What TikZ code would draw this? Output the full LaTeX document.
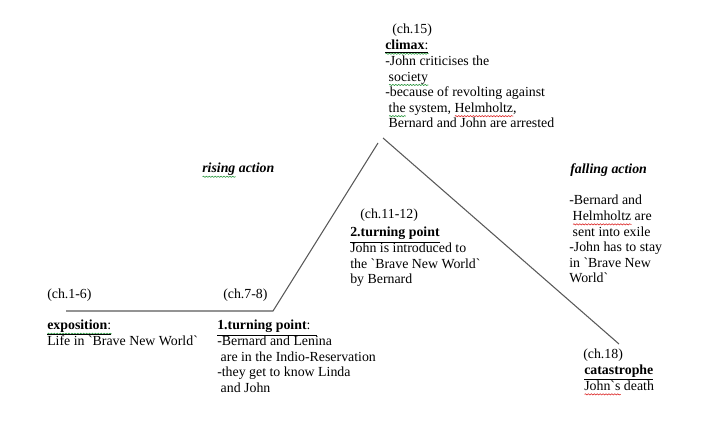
\documentclass[tikz,border=0pt]{standalone}
\usepackage{fontspec}
\setmainfont{Liberation Serif}
\usetikzlibrary{decorations.pathmorphing}
\definecolor{spellg}{RGB}{40,150,60}
\definecolor{spellr}{RGB}{220,40,40}
\newsavebox{\wordbox}
\newlength{\wordlen}
\newcommand{\spell}[2]{\sbox{\wordbox}{#2}\setlength{\wordlen}{\wd\wordbox}\rlap{\tikz[baseline=0pt]\draw[#1,line width=0.45pt,decorate,decoration={snake,amplitude=0.45pt,segment length=2.2pt}] (0pt,-2.9pt) -- (\wordlen,-2.9pt);}\usebox{\wordbox}}
\newcommand{\gr}{\textasciigrave}

\begin{document}
\begin{tikzpicture}[x=0.75pt,y=-0.75pt,
	txt/.style={anchor=north west, inner sep=0pt, align=left, font=\fontsize{10.4}{11.7}\selectfont},
	plotline/.style={draw=black!65, line width=0.8pt}]
	\useasboundingbox (0,0) rectangle (713,428);

	% kurve
	\coordinate (start) at (66,311);
	\coordinate (tp1) at (273,311);
	\coordinate (rise) at (378,143);
	\coordinate (peak) at (383,138);
	\coordinate (end) at (619,344);
	\draw[plotline] (start) -- (tp1) -- (rise);
	\draw[plotline] (peak) -- (end);

	% exposition
	\node[txt] (ch16) at (47,289) {(ch.1-6)};
	\node[txt] (expo) at (47,320) {\spell{spellg}{\underline{\textbf{exposition}:}}\\Life in \gr Brave New World\gr};

	% 1. wendepunkt
	\node[txt] (ch78) at (223,289) {(ch.7-8)};
	\node[txt] (tpone) at (217,320) {\underline{\textbf{1.turning point}:~~}\\-Bernard and Lenina\\\ are in the Indio-Reservation\\-they get to know Linda\\\ and John};

	% steigende handlung
	\node[txt] (rising) at (202,163) {\textbf{\textit{\spell{spellg}{rising} action}}};

	% 2. wendepunkt
	\node[txt] (ch1112) at (360,209) {(ch.11-12)};
	\node[txt] (tptwo) at (350,227) {\underline{\textbf{2.turning point}}\\John is introduced to\\the \gr Brave New World\gr\\by Bernard};

	% hoehepunkt
	\node[txt] (ch15) at (392,24) {(ch.15)};
	\node[txt] (climax) at (385,40) {\spell{spellg}{\underline{\textbf{climax}:}}\\-John criticises the\\\ \spell{spellg}{society}\\-because of revolting against\\\ \spell{spellg}{the} system, \spell{spellr}{Helmholtz},\\\ Bernard and John are arrested};

	% fallende handlung
	\node[txt] (falling) at (570,163) {\textbf{\textit{falling action}}};
	\node[txt] (fallingtxt) at (569,195) {-Bernard and\\\ \spell{spellr}{Helmholtz} are\\\ sent into exile\\-John has to stay\\in \gr Brave New\\World\gr};

	% katastrophe
	\node[txt] (ch18) at (583,349) {(ch.18)};
	\node[txt] (cata) at (584,365) {\underline{\textbf{catastrophe}}\\\spell{spellr}{John\gr s} death};
\end{tikzpicture}
\end{document}
